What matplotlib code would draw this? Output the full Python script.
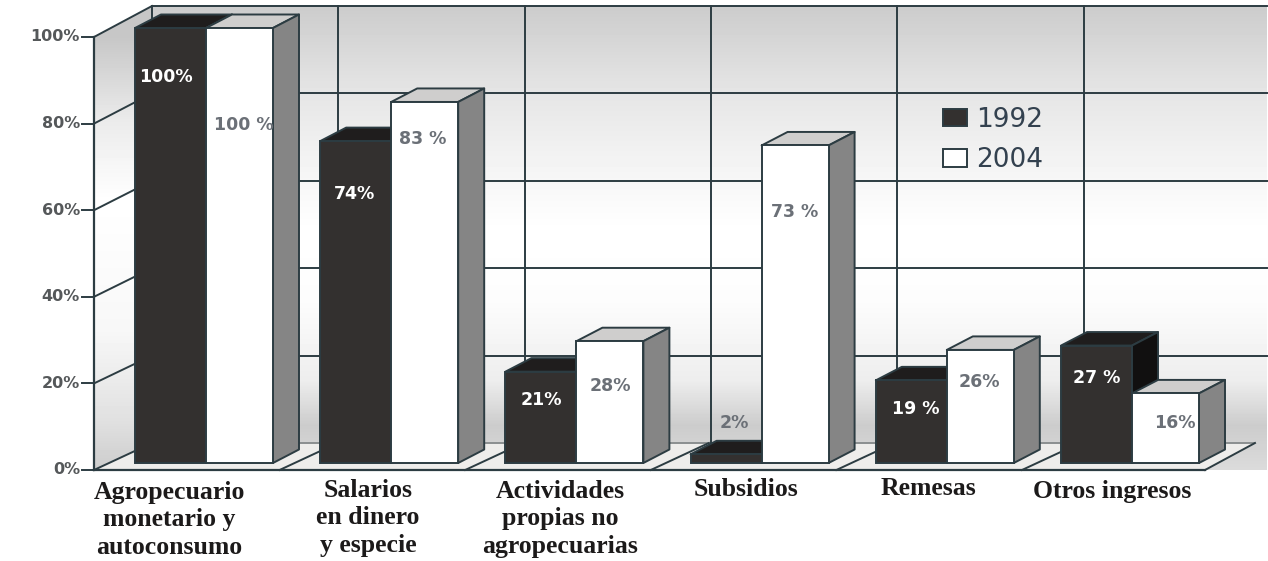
import numpy as np
import matplotlib
matplotlib.use('Agg')
import matplotlib.pyplot as plt
from matplotlib.patches import Polygon, Patch

categories = ['Agropecuario\nmonetario y\nautoconsumo', 'Salarios\nen dinero\ny especie',
              'Actividades\npropias no\nagropecuarias', 'Subsidios', 'Remesas', 'Otros ingresos']
years = ['1992', '2004']
values_1992 = [100, 74, 21, 2, 19, 27]
values_2004 = [100, 83, 28, 73, 26, 16]
labels_1992 = ['100%', '74%', '21%', '2%', '19 %', '27 %']
labels_2004 = ['100 %', '83 %', '28%', '73 %', '26%', '16%']
y_ticks = [0, 20, 40, 60, 80, 100]
y_tick_labels = ['0%', '20%', '40%', '60%', '80%', '100%']

# label offsets from the bar's top centre, in pixels
off_1992 = [(-5, -49), (-1, -53), (0, -28), (8, 31), (4, -29), (0, -32)]
off_2004 = [(4, -97), (-2, -37), (0, -45), (0, -67), (-1, -32), (9, -30)]
cat_centres = [169, 368, 560, 746, 928, 1112]
cat_tops = [481, 479, 480, 478, 477, 480]

W, H = 1268, 561
SX = 185.2   # pixels per group
SY = 4.35    # pixels per percent
X0 = 206     # pixel of first group's divider
Y0 = 463     # pixel of the bars' zero

DARK = '#33302f'
LINE = '#2c3c42'
GREY_TXT = '#6b7077'

fig = plt.figure(figsize=(W / 100, H / 100), dpi=100, facecolor='white')
ax = fig.add_axes([0, 0, 1, 1])
ax.set_xlim(-X0 / SX, (W - X0) / SX)
ax.set_ylim(-(H - Y0) / SY, Y0 / SY)
ax.axis('off')


def px_x(p):
    return (p - X0) / SX


def px_y(p):
    return (Y0 - p) / SY


dx = 26 / SX
dy = 13.5 / SY
w_dark = 71 / SX
w_white = 67 / SX

# wall corners
wall_l = px_x(94)
wall_b = px_x(152)
wall_r = px_x(1267)
floor_r = px_x(1205)
z_front = px_y(470)
z_back = px_y(443)
v_scale = (470 - 37) / 100 / SY
v_scale_back = (443 - 6) / 100 / SY


def front_y(v):
    return z_front + v * v_scale


def back_y(v):
    return z_back + v * v_scale_back


# wall shading
stops_px = [6, 50, 92, 170, 230, 300, 380, 425, 470]
stops_val = [0.80, 0.85, 0.90, 0.96, 1.0, 0.99, 0.93, 0.80, 0.86]
rows = np.arange(0, H)
shade = np.interp(rows, stops_px, stops_val)[:, None]
extent = [wall_l, wall_r, px_y(H), px_y(0)]
im = ax.imshow(shade, cmap='gray', vmin=0, vmax=1, extent=extent, aspect='auto', zorder=0)
wall_shape = Polygon([(wall_l, front_y(100)), (wall_b, back_y(100)), (wall_r, back_y(100)),
                      (wall_r, z_front), (wall_l, z_front)], transform=ax.transData)
im.set_clip_path(wall_shape)

left_stops = [37, 120, 200, 330, 420, 470]
left_vals = [0.78, 0.92, 1.0, 0.97, 0.88, 0.80]
left_shade = np.interp(rows, left_stops, left_vals)[:, None]
im2 = ax.imshow(left_shade, cmap='gray', vmin=0, vmax=1, extent=extent, aspect='auto', zorder=0.1)
im2.set_clip_path(Polygon([(wall_l, front_y(100)), (wall_b, back_y(100)), (wall_b, z_back),
                           (wall_l, z_front)], transform=ax.transData))
ax.set_xlim(-X0 / SX, (W - X0) / SX)
ax.set_ylim(-(H - Y0) / SY, Y0 / SY)

# floor
ax.add_patch(Polygon([(wall_l, z_front), (wall_b, z_back), (wall_r - 0.07, z_back), (floor_r, z_front)],
                     facecolor='#eeedeb', edgecolor='none', zorder=0.2))

lw = 1.4
# back wall and left wall grid
for v in y_ticks:
    ax.plot([wall_b, wall_r if v else wall_r - 0.07], [back_y(v), back_y(v)], color=LINE if v else '#8b8f90',
            lw=lw, zorder=1)
    ax.plot([wall_l, wall_b], [front_y(v), back_y(v)], color=LINE, lw=lw, zorder=1)
    ax.plot([px_x(82), wall_l], [front_y(v), front_y(v)], color=LINE, lw=lw, zorder=1)
    ax.text(px_x(80), front_y(v), y_tick_labels[y_ticks.index(v)], ha='right', va='center',
            fontsize=11.5, fontweight='bold', color='#55585a', family='DejaVu Sans')

for i in range(1, 6):
    x = wall_b + i * 186.3 / SX
    ax.plot([x, x], [z_back, back_y(100)], color=LINE, lw=lw, zorder=1)
    fx = wall_l + i * 185.6 / SX
    ax.plot([fx, fx + (wall_b - wall_l)], [z_front, z_back], color=LINE, lw=lw, zorder=1)
ax.plot([wall_b, wall_b], [z_back, back_y(100)], color=LINE, lw=lw, zorder=1)
ax.plot([floor_r, floor_r + 50 / SX], [z_front, z_back], color=LINE, lw=lw, zorder=1)
ax.plot([wall_l, wall_l], [z_front, front_y(100)], color=LINE, lw=lw + 0.2, zorder=1)
ax.plot([wall_l, floor_r], [z_front, z_front], color=LINE, lw=lw + 0.2, zorder=1)

x_pos = np.arange(len(categories))


def draw_box_3d(x0, x1, v, top_col, side_col, z):
    ax.add_patch(Polygon([(x0, v), (x1, v), (x1 + dx, v + dy), (x0 + dx, v + dy)],
                         facecolor=top_col, edgecolor=LINE, lw=lw, zorder=z, joinstyle='round'))
    ax.add_patch(Polygon([(x1, 0), (x1 + dx, dy), (x1 + dx, v + dy), (x1, v)],
                         facecolor=side_col, edgecolor=LINE, lw=lw, zorder=z, joinstyle='round'))


for i in x_pos:
    z = 3 + i
    draw_box_3d(i - w_dark, i, values_1992[i], '#1f1d1d', '#111010', z)
    ax.bar(i - w_dark, values_1992[i], w_dark, align='edge', color=DARK, edgecolor=LINE, lw=lw, zorder=z + 0.1)
    draw_box_3d(i, i + w_white, values_2004[i], '#cfcecd', '#858585', z + 0.2)
    ax.bar(i, values_2004[i], w_white, align='edge', color='white', edgecolor=LINE, lw=lw, zorder=z + 0.3)
    ax.annotate(labels_1992[i], (i - w_dark / 2, values_1992[i]), xytext=off_1992[i], textcoords='offset pixels',
                ha='center', va='center', fontsize=12.5, fontweight='bold', family='DejaVu Sans',
                color='white' if values_1992[i] > 5 else GREY_TXT, zorder=20)
    ax.annotate(labels_2004[i], (i + w_white / 2, values_2004[i]), xytext=off_2004[i], textcoords='offset pixels',
                ha='center', va='center', fontsize=12.5, fontweight='bold', family='DejaVu Sans',
                color=GREY_TXT, zorder=20)

# category names under the floor
for name, cx, top in zip(categories, cat_centres, cat_tops):
    ax.text(px_x(cx), px_y(top), name, ha='center', va='top', fontsize=18.5, fontweight='bold',
            family='Liberation Serif', color='#1c1a1a', linespacing=1.24, zorder=20)

handles = [Patch(facecolor=DARK, edgecolor=LINE, lw=lw), Patch(facecolor='white', edgecolor=LINE, lw=lw)]
ax.legend(handles, years, loc='upper left', bbox_to_anchor=(px_x(919), px_y(83)), bbox_transform=ax.transData,
          frameon=False, handlelength=0.91, handleheight=0.64, handletextpad=0.35, labelspacing=0.55,
          prop={'family': 'DejaVu Sans', 'size': 19}, labelcolor='#33414f').set_zorder(20)

fig.savefig('out.png', dpi=100)
